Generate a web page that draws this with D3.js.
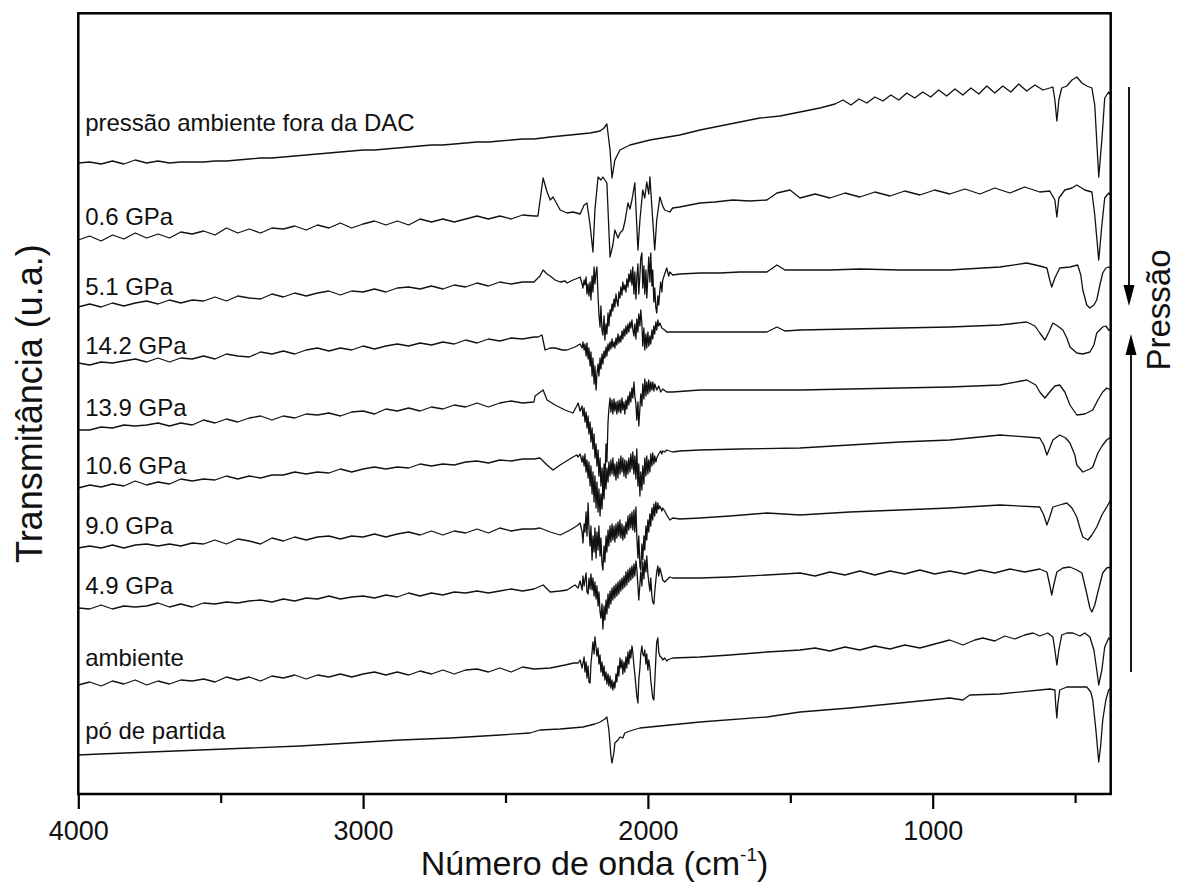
<!DOCTYPE html>
<html>
<head>
<meta charset="utf-8">
<script src="https://cdn.jsdelivr.net/npm/d3@7"></script>
<style>
  body { margin: 0; background: #fff; }
  text { font-family: "Liberation Sans", Arial, sans-serif; fill: #111; }
</style>
</head>
<body>
<svg id="chart" width="1178" height="885"></svg>
<script>
// wavenumbers (cm-1) shared by the flat left part of every noisy spectrum
const wnLeft = [4000,3960,3920,3880,3840,3800,3760,3720,3680,3640,3600,3560,3520,3480,3440,3400,3360,3320,3280,3240,
                3200,3160,3120,3080,3040,3000,2960,2920,2880,2840,2800,2760,2720,2680,2640,2600,2560,2520,2480,2440,2400];

// transmittance (u.a., with offsets) — left parts on wnLeft, rest as [wn, T]
const foraLeft = [631,632,630,633,630,634,631,633,631,632,632,632,633,633,634,635,636,636,637,638,
                  639,640,641,642,643,644,644,645,646,647,648,649,649,650,651,652,652,653,654,655,655];
const foraRest = [[2343,657],[2203,661],[2168,663],[2154,666],[2144,670],[2133,644],[2126,616],[2116,634],[2098,644],[2063,649],[1993,654],[1888,659],[1817,664],[1747,668],[1677,672],[1607,676],[1536,678],[1466,682],[1396,686],[1343,690],[1315,694],[1287,689],[1259,695],[1231,691],[1203,697],[1175,693],[1147,699],[1119,694],[1091,701],[1063,696],[1035,702],[1007,697],[979,704],[951,698],[922,705],[894,699],[866,706],[838,700],[810,708],[782,701],[754,708],[726,702],[698,710],[670,703],[641,709],[613,704],[589,706],[578,707],[571,694],[564,673],[557,694],[547,706],[529,708],[511,714],[494,717],[476,711],[459,708],[441,706],[431,689],[417,617],[406,654],[396,696],[382,702],[375,699]];

const p06Left = [554,558,553,559,555,561,556,560,556,562,560,563,559,566,561,565,561,566,565,568,
                 564,569,566,571,566,570,573,569,573,569,575,572,575,572,575,578,575,578,575,579,578];
const p06Rest = [[2386,578],[2368,616],[2354,602],[2343,594],[2333,597],[2308,584],[2284,581],[2263,582],[2238,580],[2224,589],[2214,591],[2203,569],[2193,542],[2186,584],[2175,617],[2165,614],[2158,617],[2144,611],[2133,537],[2123,549],[2116,564],[2105,556],[2098,561],[2088,564],[2081,572],[2077,579],[2070,591],[2063,585],[2056,594],[2046,611],[2035,544],[2028,574],[2018,604],[2011,596],[2004,612],[1997,600],[1993,617],[1983,574],[1976,544],[1969,574],[1958,597],[1948,588],[1941,584],[1923,582],[1913,586],[1888,587],[1853,589],[1817,591],[1765,592],[1702,594],[1642,593],[1582,594],[1547,601],[1501,604],[1466,596],[1413,600],[1361,596],[1308,601],[1256,597],[1203,602],[1150,598],[1098,603],[1045,599],[993,604],[940,600],[887,605],[834,600],[782,606],[729,601],[677,607],[624,602],[589,603],[571,594],[564,577],[557,596],[536,604],[511,606],[494,609],[466,604],[441,602],[431,579],[417,534],[406,569],[396,596],[382,601],[375,599]];

const p51Left = [487,490,487,491,488,491,493,490,494,491,494,493,497,493,498,496,495,500,497,501,
                 498,501,503,499,503,502,505,502,506,507,505,508,505,509,507,511,508,512,510,512,512];
const p51Rest = [[2379,518],[2368,524],[2354,520],[2343,518],[2326,514],[2308,512],[2291,513],[2284,511],[2263,514],[2245,516],[2238,517],[2231,510],[2228,506],[2224,514],[2221,509],[2217,517],[2214,500],[2210,510],[2207,498],[2203,512],[2200,494],[2196,518],[2193,502],[2189,527],[2186,510],[2182,522],[2179,527],[2175,498],[2172,480],[2168,467],[2165,488],[2161,463],[2158,459],[2154,478],[2151,454],[2147,470],[2144,460],[2140,481],[2137,468],[2133,484],[2130,478],[2126,490],[2123,483],[2119,495],[2116,487],[2112,500],[2109,493],[2105,488],[2102,502],[2098,496],[2095,507],[2091,499],[2088,512],[2084,504],[2081,509],[2077,502],[2074,515],[2070,507],[2067,520],[2063,512],[2060,524],[2056,509],[2053,527],[2049,500],[2046,522],[2042,495],[2039,516],[2035,530],[2032,500],[2028,519],[2025,536],[2021,541],[2018,506],[2014,528],[2011,500],[2007,524],[2004,496],[2000,518],[1997,537],[1993,512],[1990,541],[1986,508],[1983,524],[1979,492],[1976,506],[1972,486],[1969,481],[1965,498],[1962,489],[1958,504],[1955,512],[1951,502],[1948,514],[1941,520],[1934,526],[1927,518],[1923,522],[1913,519],[1888,520],[1817,521],[1747,521],[1677,522],[1582,522],[1547,529],[1519,524],[1466,524],[1361,524],[1256,525],[1115,524],[1010,524],[940,524],[824,526],[764,527],[670,531],[624,528],[599,526],[589,514],[582,507],[571,516],[554,526],[518,527],[491,529],[480,519],[473,504],[459,489],[448,486],[434,489],[424,494],[413,509],[403,521],[392,526],[382,527],[375,526]];

const p142Left = [431,429,432,431,433,435,432,436,432,436,435,438,435,440,438,437,442,440,443,440,
                  444,446,443,446,444,448,445,448,450,448,451,449,452,450,454,451,455,453,456,455,457];
const p142Rest = [[2386,457],[2372,459],[2361,444],[2343,446],[2326,446],[2300,444],[2284,444],[2256,447],[2238,450],[2231,446],[2228,452],[2224,444],[2221,450],[2217,438],[2214,451],[2210,435],[2207,446],[2203,428],[2200,442],[2196,418],[2193,436],[2189,410],[2186,428],[2182,404],[2179,420],[2175,430],[2172,418],[2168,436],[2165,425],[2161,440],[2158,430],[2154,443],[2151,436],[2147,447],[2144,438],[2140,450],[2137,443],[2133,452],[2130,445],[2126,455],[2123,447],[2119,452],[2116,446],[2112,456],[2109,449],[2105,460],[2102,451],[2098,458],[2095,452],[2091,463],[2088,455],[2084,465],[2081,458],[2077,468],[2074,460],[2070,470],[2067,462],[2063,472],[2060,466],[2056,474],[2053,465],[2049,458],[2046,470],[2042,455],[2039,475],[2035,462],[2032,480],[2028,468],[2025,484],[2021,470],[2018,448],[2014,466],[2011,444],[2007,460],[2004,446],[2000,462],[1997,448],[1993,458],[1990,450],[1986,464],[1983,455],[1979,468],[1976,460],[1972,472],[1969,464],[1965,474],[1962,468],[1958,471],[1951,466],[1941,464],[1934,462],[1923,462],[1888,462],[1817,462],[1712,462],[1582,462],[1547,467],[1519,463],[1466,464],[1291,465],[1115,466],[940,467],[764,469],[670,472],[641,468],[624,461],[606,454],[592,462],[578,471],[561,468],[543,464],[529,456],[518,447],[494,441],[473,440],[448,442],[434,449],[424,461],[403,467],[392,468],[382,464],[375,464]];

const p139Left = [364,364,367,366,369,368,369,371,368,371,369,374,371,375,372,376,378,374,378,376,
                  380,379,381,378,382,383,380,385,383,386,383,387,385,389,387,391,387,391,393,391,392];
const p139Rest = [[2396,398],[2368,404],[2354,394],[2326,389],[2291,384],[2263,381],[2250,388],[2245,391],[2238,383],[2231,388],[2228,378],[2224,386],[2221,372],[2217,382],[2214,366],[2210,378],[2207,360],[2203,372],[2200,352],[2196,366],[2193,345],[2189,360],[2186,336],[2182,350],[2179,328],[2175,344],[2172,318],[2168,336],[2165,308],[2161,326],[2158,302],[2154,330],[2151,312],[2147,350],[2144,332],[2140,372],[2137,385],[2133,396],[2130,382],[2126,394],[2123,380],[2119,395],[2116,383],[2112,392],[2109,380],[2105,393],[2102,382],[2098,394],[2095,381],[2091,396],[2088,384],[2084,392],[2081,380],[2077,394],[2074,385],[2070,398],[2067,389],[2063,402],[2060,392],[2056,406],[2053,396],[2049,412],[2046,398],[2042,390],[2039,374],[2035,392],[2032,368],[2028,386],[2025,400],[2021,388],[2018,410],[2014,395],[2011,415],[2007,398],[2004,412],[2000,400],[1997,414],[1993,402],[1990,412],[1986,404],[1983,412],[1979,403],[1976,410],[1969,404],[1962,408],[1955,402],[1948,405],[1934,402],[1913,402],[1817,404],[1582,404],[1466,404],[1291,405],[1115,406],[940,407],[764,409],[670,414],[638,409],[624,402],[606,396],[592,401],[571,408],[554,409],[536,402],[518,389],[494,379],[466,380],[438,384],[420,394],[403,402],[389,406],[375,404]];

const p106Left = [306,309,307,310,308,313,309,312,310,315,313,315,314,318,315,318,316,319,319,322,
                  320,322,321,325,322,325,327,325,327,326,330,328,330,329,332,333,331,334,333,335,335];
const p106Rest = [[2379,336],[2354,329],[2333,324],[2308,329],[2280,334],[2263,337],[2250,339],[2245,337],[2238,340],[2231,332],[2228,338],[2224,328],[2221,340],[2217,322],[2214,334],[2210,316],[2207,332],[2203,308],[2200,328],[2196,300],[2193,322],[2189,292],[2186,318],[2182,286],[2179,312],[2175,282],[2172,305],[2168,278],[2165,300],[2161,285],[2158,312],[2154,295],[2151,320],[2147,305],[2144,326],[2140,312],[2137,332],[2133,318],[2130,334],[2126,320],[2123,336],[2119,318],[2116,330],[2112,314],[2109,332],[2105,316],[2102,335],[2098,320],[2095,338],[2091,322],[2088,336],[2084,318],[2081,334],[2077,316],[2074,333],[2070,320],[2067,336],[2063,322],[2060,340],[2056,325],[2053,342],[2049,320],[2046,338],[2042,315],[2039,345],[2035,308],[2032,330],[2028,298],[2025,322],[2021,304],[2018,328],[2014,310],[2011,336],[2007,318],[2004,338],[2000,320],[1997,334],[1993,322],[1990,340],[1986,328],[1983,341],[1979,330],[1976,338],[1972,332],[1969,336],[1962,340],[1955,343],[1951,340],[1948,343],[1941,342],[1934,344],[1913,342],[1888,343],[1817,344],[1677,345],[1466,346],[1291,349],[1115,352],[940,354],[764,359],[624,356],[610,349],[599,339],[589,346],[578,354],[554,359],[533,356],[518,351],[501,339],[494,329],[473,322],[448,325],[438,327],[420,341],[403,349],[389,354],[375,357]];

const p90Left = [246,248,246,249,246,249,250,248,250,248,251,250,254,250,255,253,250,256,253,257,
                 254,257,258,255,258,257,260,257,260,262,259,263,259,263,261,265,261,266,263,265,265];
const p90Rest = [[2379,266],[2343,262],[2308,259],[2273,264],[2250,268],[2238,271],[2231,262],[2228,251],[2224,270],[2221,262],[2217,282],[2214,258],[2210,291],[2207,266],[2203,248],[2200,268],[2196,234],[2193,258],[2189,242],[2186,266],[2182,236],[2179,262],[2175,244],[2172,268],[2168,238],[2165,256],[2161,230],[2158,224],[2154,248],[2151,232],[2147,258],[2144,242],[2140,264],[2137,248],[2133,268],[2130,252],[2126,270],[2123,254],[2119,268],[2116,252],[2112,270],[2109,256],[2105,272],[2102,258],[2098,274],[2095,256],[2091,270],[2088,254],[2084,268],[2081,256],[2077,272],[2074,260],[2070,278],[2067,264],[2063,280],[2060,266],[2056,282],[2053,264],[2049,284],[2046,262],[2042,287],[2039,258],[2035,236],[2032,258],[2028,228],[2025,224],[2021,250],[2018,234],[2014,258],[2011,244],[2007,268],[2004,254],[2000,274],[1997,262],[1993,280],[1990,268],[1986,286],[1983,274],[1979,290],[1976,278],[1972,292],[1969,281],[1965,291],[1962,285],[1958,288],[1951,283],[1948,286],[1941,283],[1934,279],[1923,274],[1913,276],[1888,275],[1817,276],[1712,278],[1582,281],[1466,279],[1291,282],[1115,284],[940,286],[764,289],[624,287],[610,279],[599,269],[589,277],[578,287],[554,289],[529,291],[511,286],[494,277],[483,266],[473,257],[455,254],[441,259],[424,267],[406,279],[389,287],[375,294]];

const p49Left = [186,185,189,185,188,187,188,191,187,190,187,191,190,192,191,193,194,192,195,193,
                 196,195,198,195,197,198,196,199,197,201,198,201,199,202,201,203,201,203,205,203,205];
const p49Rest = [[2368,209],[2343,202],[2308,203],[2284,204],[2256,209],[2245,206],[2238,213],[2231,204],[2228,218],[2224,208],[2221,214],[2217,221],[2214,202],[2210,200],[2207,216],[2203,205],[2200,220],[2196,204],[2193,216],[2189,198],[2186,212],[2182,195],[2179,208],[2175,188],[2172,202],[2168,182],[2165,176],[2161,190],[2158,165],[2154,188],[2151,174],[2147,194],[2144,180],[2140,200],[2137,186],[2133,203],[2130,190],[2126,206],[2123,194],[2119,208],[2116,196],[2112,210],[2109,198],[2105,212],[2102,200],[2098,214],[2095,203],[2091,216],[2088,205],[2084,218],[2081,207],[2077,222],[2074,209],[2070,224],[2067,212],[2063,226],[2060,214],[2056,228],[2053,216],[2049,230],[2046,218],[2042,233],[2039,225],[2035,208],[2032,194],[2028,210],[2025,222],[2021,208],[2018,232],[2014,215],[2011,234],[2007,222],[2004,238],[2000,220],[1997,212],[1993,203],[1990,216],[1986,198],[1983,192],[1979,190],[1976,202],[1972,214],[1969,222],[1965,228],[1962,218],[1958,226],[1951,218],[1948,214],[1941,212],[1934,214],[1923,217],[1913,216],[1817,216],[1712,217],[1582,219],[1466,221],[1413,218],[1361,222],[1308,219],[1256,223],[1203,219],[1150,223],[1098,220],[1045,224],[993,220],[940,223],[887,220],[834,224],[782,221],[729,225],[677,222],[624,225],[599,222],[589,209],[582,199],[575,209],[564,222],[543,226],[518,227],[494,224],[476,221],[462,204],[448,186],[441,182],[431,189],[420,202],[403,221],[389,226],[375,227]];

const ambLeft = [109,112,108,113,110,114,109,113,110,114,113,115,112,117,114,117,113,118,116,119,
                 115,119,117,120,117,120,122,119,122,119,123,120,124,120,124,125,122,126,122,127,125];
const ambRest = [[2343,126],[2291,129],[2260,131],[2245,131],[2238,134],[2231,126],[2224,137],[2221,122],[2217,132],[2214,116],[2210,128],[2207,112],[2203,111],[2200,130],[2196,142],[2193,152],[2189,140],[2186,157],[2182,146],[2179,138],[2175,146],[2172,130],[2168,139],[2165,122],[2161,132],[2158,118],[2154,128],[2151,114],[2147,122],[2144,110],[2140,120],[2137,108],[2133,118],[2130,106],[2126,114],[2123,104],[2119,112],[2116,106],[2112,120],[2109,112],[2105,128],[2102,118],[2098,136],[2095,126],[2091,134],[2088,120],[2084,132],[2081,122],[2077,137],[2074,126],[2070,142],[2067,130],[2063,144],[2060,136],[2056,148],[2053,142],[2049,128],[2046,120],[2042,108],[2039,98],[2035,91],[2032,114],[2028,126],[2025,140],[2021,148],[2018,140],[2014,138],[2011,144],[2007,130],[2004,140],[2000,124],[1997,134],[1993,126],[1990,114],[1986,104],[1983,96],[1979,94],[1976,112],[1972,136],[1969,152],[1965,156],[1962,142],[1958,138],[1951,136],[1948,134],[1941,136],[1934,133],[1930,134],[1923,135],[1913,136],[1817,137],[1712,139],[1582,142],[1466,144],[1413,146],[1361,143],[1308,147],[1256,144],[1203,148],[1150,145],[1098,149],[1045,146],[993,150],[940,154],[894,149],[852,154],[824,156],[782,153],[747,158],[712,155],[677,159],[648,161],[624,158],[596,161],[578,157],[571,144],[564,129],[557,144],[547,159],[529,161],[508,161],[483,158],[466,161],[448,157],[434,144],[424,124],[417,109],[406,124],[396,147],[382,156],[375,154]];

const poDePartida = [[4000,39],[3924,40],[3748,42],[3573,44],[3397,46],[3222,48],[3046,51],[2870,54],[2694,56],[2519,59],[2414,61],[2379,64],[2308,65],[2228,67],[2186,70],[2168,72],[2151,75],[2144,77],[2137,64],[2130,39],[2126,31],[2119,42],[2116,51],[2105,54],[2098,57],[2088,56],[2081,61],[2063,63],[2028,66],[1923,69],[1817,72],[1582,77],[1466,82],[1291,86],[1115,91],[940,96],[894,94],[870,99],[764,100],[589,105],[571,104],[568,89],[564,76],[561,89],[554,104],[529,107],[483,107],[459,107],[445,102],[438,94],[427,64],[417,32],[410,49],[403,74],[392,94],[382,104],[375,106]];

const seriesLabels = ["pressão ambiente fora da DAC", "0.6 GPa", "5.1 GPa", "14.2 GPa", "13.9 GPa",
                      "10.6 GPa", "9.0 GPa", "4.9 GPa", "ambiente", "pó de partida"];
// level (u.a.) of each label's baseline
const labelLevels = [663, 569, 499, 440, 378, 320, 260, 200, 128, 55];
const majorTicks = [4000, 3000, 2000, 1000];
const minorTicks = [3500, 2500, 1500, 500];

const join = (left, rest) => wnLeft.map((w, i) => [w, left[i]]).concat(rest);
const series = [join(foraLeft, foraRest), join(p06Left, p06Rest), join(p51Left, p51Rest),
                join(p142Left, p142Rest), join(p139Left, p139Rest), join(p106Left, p106Rest),
                join(p90Left, p90Rest), join(p49Left, p49Rest), join(ambLeft, ambRest), poDePartida];

const svg = d3.select("#chart");
const plot = { left: 78.3, right: 1110.7, top: 13.3, bottom: 794 };

const x = d3.scaleLinear().domain([4000, 375]).range([plot.left, plot.right]);
const y = d3.scaleLinear().domain([0, 780.7]).range([plot.bottom, plot.top]);

const line = d3.line().x((d) => x(d[0])).y((d) => y(d[1]));

const g = svg.append("g");
series.forEach((s) => {
  g.append("path")
    .datum(s)
    .attr("d", line)
    .attr("fill", "none")
    .attr("stroke", "#111")
    .attr("stroke-width", 1.3)
    .attr("stroke-linejoin", "round");
});

seriesLabels.forEach((lab, i) => {
  svg.append("text")
    .attr("x", x(3976))
    .attr("y", y(labelLevels[i]))
    .style("font-size", "24px")
    .text(lab);
});

// frame
svg.append("rect")
  .attr("x", plot.left).attr("y", plot.top)
  .attr("width", plot.right - plot.left).attr("height", plot.bottom - plot.top)
  .attr("fill", "none").attr("stroke", "#000").attr("stroke-width", 2.5);

// x axis
const gx = svg.append("g").attr("transform", `translate(0,${plot.bottom})`)
  .call(d3.axisBottom(x).tickValues(majorTicks).tickSize(15).tickPadding(12).tickFormat(d3.format("d")));
gx.select(".domain").remove();
gx.selectAll(".tick line").attr("stroke", "#000").attr("stroke-width", 2.2);
gx.selectAll(".tick text").style("font-size", "27px").attr("font-family", null);

const gm = svg.append("g").attr("transform", `translate(0,${plot.bottom})`)
  .call(d3.axisBottom(x).tickValues(minorTicks).tickSize(9).tickFormat(""));
gm.select(".domain").remove();
gm.selectAll(".tick line").attr("stroke", "#000").attr("stroke-width", 2.2);

// axis titles
const xt = svg.append("text")
  .attr("x", (plot.left + plot.right) / 2).attr("y", 875)
  .attr("text-anchor", "middle").style("font-size", "34px");
xt.append("tspan").text("Número de onda (cm");
xt.append("tspan").attr("dy", -14).style("font-size", "19px").text("-1");
xt.append("tspan").attr("dy", 14).text(")");

svg.append("text")
  .attr("transform", `translate(42,${(plot.top + plot.bottom) / 2}) rotate(-90)`)
  .attr("text-anchor", "middle").style("font-size", "36px")
  .text("Transmitância (u.a.)");

svg.append("text")
  .attr("transform", "translate(1170,310) rotate(-90)")
  .attr("text-anchor", "middle").style("font-size", "33px")
  .text("Pressão");

// pressure arrows
const arrow = (xa, y0, y1) => {
  svg.append("line").attr("x1", xa).attr("x2", xa).attr("y1", y0).attr("y2", y1 + (y1 > y0 ? -18 : 18))
    .attr("stroke", "#000").attr("stroke-width", 1.8);
  const s = y1 > y0 ? -1 : 1;
  svg.append("path")
    .attr("d", `M${xa},${y1} L${xa - 5.5},${y1 + s * 21} L${xa + 5.5},${y1 + s * 21} Z`)
    .attr("fill", "#000");
};
arrow(1129, 87, 306);
arrow(1131, 672, 334);
</script>
</body>
</html>
